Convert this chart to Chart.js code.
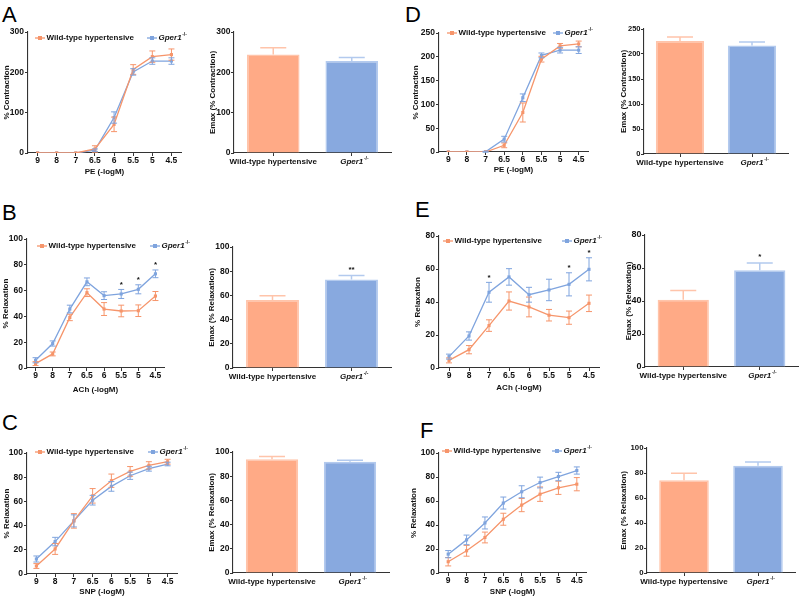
<!DOCTYPE html>
<html><head><meta charset="utf-8">
<script src="https://cdn.jsdelivr.net/npm/chart.js@4.4.0/dist/chart.umd.min.js"></script>
<style>
html,body{margin:0;padding:0;background:#fff}
body{width:800px;height:598px;position:relative;overflow:hidden;font-family:"Liberation Sans",Arial,sans-serif}
canvas{position:absolute}
.letter{position:absolute;font-size:22px;line-height:1;color:#000;font-family:"Liberation Sans",Arial,sans-serif}
</style></head><body>
<div class="letter" style="left:2px;top:4px">A</div>
<div class="letter" style="left:2px;top:202px">B</div>
<div class="letter" style="left:2px;top:412px">C</div>
<div class="letter" style="left:405px;top:4px">D</div>
<div class="letter" style="left:415px;top:199px">E</div>
<div class="letter" style="left:420px;top:420px">F</div>
<canvas id="lA"></canvas><canvas id="lB"></canvas><canvas id="lC"></canvas>
<canvas id="lD"></canvas><canvas id="lE"></canvas><canvas id="lF"></canvas>
<canvas id="bA"></canvas><canvas id="bB"></canvas><canvas id="bC"></canvas>
<canvas id="bD"></canvas><canvas id="bE"></canvas><canvas id="bF"></canvas>
<script>
// ---------- data ----------
const concentrations = ['9','8','7','6.5','6','5.5','5','4.5'];
const seriesNames = ['Wild-type hypertensive','Gper1-/-'];
const groups = ['Wild-type hypertensive','Gper1-/-'];

// A: PE contraction
const wtA = [0,0,0,10,71,207,239,244];
const wtErrA = [0,0,0,8,18,12,14,14];
const koA = [0,0,0,7,88,201,228,228];
const koErrA = [0,0,0,3,14,8,8,8];
const emaxA = [244,228];
const emaxErrA = [17,9];

// B: ACh relaxation
const wtB = [3.4,10.9,39.2,58.4,45.7,44.2,44.4,55.8];
const wtErrB = [1.5,1.5,2.5,3,5,4.5,4.5,3.5];
const koB = [6,19,45.7,66.8,56.1,57.4,61,73];
const koErrB = [2,2,3,3,3,3.5,3.5,3];
const sigB = ['','','','','','*','*','*'];
const emaxB = [56.2,73.2];
const emaxErrB = [3.5,3.2];
const emaxSigB = ['','**'];

// C: SNP relaxation
const wtC = [6.6,20.7,43.9,64.6,77.1,84.8,89.8,92.8];
const wtErrC = [2,4.5,6,6,5.5,4,3,2];
const koC = [12.4,26.8,43.9,61,72.4,81.2,87,90.9];
const koErrC = [2.5,3.5,5,4,4,3,2,1.5];
const emaxC = [94,92];
const emaxErrC = [2.2,1.2];

// D: PE contraction
const wtD = [0,0,0,14,83,195,223,227];
const wtErrD = [0,0,0,5,20,6,5,6];
const koD = [0,0,0.5,27,114,203,214,214];
const koErrD = [0,0,1,6,8,5,6,7];
const emaxD = [226,217];
const emaxErrD = [8,7];

// E: ACh relaxation
const wtE = [4.6,11.1,25.7,40.6,37,32,30.5,39.2];
const wtErrE = [1.5,2.5,3.5,5.5,6,3.5,4,5];
const koE = [6.9,19.4,45.9,55.2,44.4,47.3,50.7,59.8];
const koErrE = [1.5,2.5,6,5,4.5,6.5,7,7];
const sigE = ['','','*','','','','*','*'];
const emaxE = [40.7,58.7];
const emaxErrE = [5.7,4.4];
const emaxSigE = ['','*'];

// F: SNP relaxation
const wtF = [9.4,18.5,29.6,44.8,56.6,65.7,71,74];
const wtErrF = [3.5,4.5,4.5,5,5.5,6,5.5,5.5];
const koF = [15.7,27.6,41.7,58.3,67.7,75.4,80.4,85.4];
const koErrF = [3,4,5,5,5,4.5,3.5,3];
const emaxF = [74.3,85.9];
const emaxErrF = [5.5,3];

// ---------- styling ----------
const FAM = '"Liberation Sans", Arial, Helvetica, sans-serif';
const ORANGE = '#F6956B', BLUE = '#7FA4DE';
const ORANGE_BAR = '#FFAA86', BLUE_BAR = '#88A9DF';
const ORANGE_EDGE = '#FFC4AA', BLUE_EDGE = '#B3CAEE';
const AX = '#333';
const TXT = '#111';
const fs = (size, weight='bold', style='normal') => `${style} ${weight} ${size}px ${FAM}`;

function drawLabel(ctx, text, x, y, size, align) {
  const m = text.match(/^(.*?)(-\/-)$/);
  ctx.textBaseline = 'middle';
  if (!m) {
    ctx.font = fs(size); ctx.textAlign = align || 'left';
    ctx.fillText(text, x, y); return;
  }
  ctx.font = fs(size,'bold','italic');
  const w1 = ctx.measureText(m[1]).width;
  ctx.font = fs(size*0.62);
  const w2 = ctx.measureText(m[2]).width;
  const x0 = align === 'center' ? x - (w1 + w2) / 2 : x;
  ctx.textAlign = 'left';
  ctx.font = fs(size,'bold','italic'); ctx.fillText(m[1], x0, y);
  ctx.font = fs(size*0.62); ctx.fillText(m[2], x0 + w1 + 0.6, y - size*0.38);
}

const innerLegend = {
  id: 'innerLegend',
  afterDraw(chart, args, opts) {
    if (!opts || !opts.items) return;
    const {ctx, chartArea} = chart;
    ctx.save();
    chart.data.datasets.forEach((ds, i) => {
      const x = chartArea.left + opts.items[i];
      const y = chartArea.top + opts.dy;
      ctx.strokeStyle = ds.borderColor; ctx.lineWidth = 1.3;
      ctx.beginPath(); ctx.moveTo(x, y); ctx.lineTo(x + 10, y); ctx.stroke();
      ctx.fillStyle = ds.borderColor; ctx.fillRect(x + 3, y - 2, 4, 4);
      ctx.fillStyle = TXT;
      drawLabel(ctx, ds.label, x + 11.5, y, opts.size, 'left');
    });
    ctx.restore();
  }
};

const errorBars = {
  id: 'errorBars',
  afterDatasetsDraw(chart, args, opts) {
    const {ctx} = chart;
    const ys = chart.scales.y;
    ctx.save();
    chart.data.datasets.forEach((ds, i) => {
      if (!ds.errors) return;
      const meta = chart.getDatasetMeta(i);
      meta.data.forEach((el, j) => {
        const v = ds.data[j], e = ds.errors[j];
        const col = Array.isArray(ds.errColor) ? ds.errColor[j] : ds.errColor;
        const x = el.x;
        const yTop = ys.getPixelForValue(v + e);
        if (e > 0) {
          const yBot = opts.upOnly ? ys.getPixelForValue(v) : ys.getPixelForValue(v - e);
          ctx.strokeStyle = col; ctx.lineWidth = opts.width || 1;
          ctx.beginPath();
          ctx.moveTo(x, yBot); ctx.lineTo(x, yTop);
          ctx.moveTo(x - opts.cap, yTop); ctx.lineTo(x + opts.cap, yTop);
          if (!opts.upOnly) { ctx.moveTo(x - opts.cap, yBot); ctx.lineTo(x + opts.cap, yBot); }
          ctx.stroke();
        }
        if (ds.marks && ds.marks[j]) {
          ctx.fillStyle = TXT; ctx.font = fs(8);
          ctx.textAlign = 'center'; ctx.textBaseline = 'bottom';
          ctx.fillText(ds.marks[j], x, yTop - (opts.markGap || 1));
        }
      });
    });
    ctx.restore();
  }
};

// superscript on bar-category label
const catSuper = {
  id: 'catSuper',
  afterDraw(chart, args, opts) {
    const xs = chart.scales.x;
    const {ctx} = chart;
    ctx.save();
    chart.data.labels.forEach((lab, i) => {
      const m = lab.match(/^(.*?)(-\/-)$/);
      if (!m) return;
      const size = opts.size;
      ctx.font = fs(size,'bold','italic');
      const w1 = ctx.measureText(m[1]).width;
      const x = xs.getPixelForTick(i);
      const yMid = xs.top + opts.tl + opts.pad + size*1.2/2;
      ctx.font = fs(size*0.62); ctx.fillStyle = TXT;
      ctx.textAlign = 'left'; ctx.textBaseline = 'middle';
      ctx.fillText(m[2], x + w1/2 + 0.6, yMid - size*0.38);
    });
    ctx.restore();
  }
};

function placeCanvas(id, box) {
  const cv = document.getElementById(id);
  cv.width = box.w; cv.height = box.h;
  cv.style.left = box.x + 'px'; cv.style.top = box.y + 'px';
  cv.style.width = box.w + 'px'; cv.style.height = box.h + 'px';
  return cv;
}

function axisCommon() {
  return {
    grid: {display: true, drawOnChartArea: false, offset: false, tickLength: 3, color: AX, lineWidth: 1},
    border: {display: true, color: AX, width: 1.1}
  };
}

function lineChart(id, box, area, s) {
  const cv = placeCanvas(id, box);
  const lh = 8 * 1.2;
  new Chart(cv, {
    type: 'line',
    data: {
      labels: concentrations,
      datasets: [
        {label: seriesNames[0], data: s.wt, errors: s.wtErr, errColor: ORANGE, borderColor: ORANGE, backgroundColor: ORANGE,
         borderWidth: 1.3, pointStyle: 'rect', pointRadius: 2.2, pointBorderWidth: 0, tension: 0},
        {label: seriesNames[1], data: s.ko, errors: s.koErr, marks: s.sig, errColor: BLUE, borderColor: BLUE, backgroundColor: BLUE,
         borderWidth: 1.3, pointStyle: 'rect', pointRadius: 2.2, pointBorderWidth: 0, tension: 0}
      ]
    },
    options: {
      responsive: false, animation: false, devicePixelRatio: 1,
      layout: {padding: {left: 0, top: area.t - box.y, right: box.x + box.w - area.r, bottom: 0}},
      plugins: {
        legend: {display: false}, tooltip: {enabled: false},
        innerLegend: {items: s.legendX, dy: s.legendDy, size: 8},
        errorBars: {cap: 3, width: 1, markGap: 1}
      },
      scales: {
        x: Object.assign(axisCommon(), {
          offset: true,
          ticks: {font: {family: FAM, weight: 'bold', size: 8.5}, color: TXT, padding: 0, maxRotation: 0, minRotation: 0, autoSkip: false},
          title: {display: true, text: s.xTitle, color: TXT, font: {family: FAM, weight: 'bold', size: 8},
                  padding: {top: 0, bottom: box.y + box.h - s.xTitleY - lh/2}},
          afterFit: sc => { sc.height = box.y + box.h - area.b; }
        }),
        y: Object.assign(axisCommon(), {
          min: 0, max: s.max,
          ticks: {stepSize: s.step, font: {family: FAM, weight: 'bold', size: 8.5}, color: TXT, padding: 1},
          title: {display: true, text: s.yTitle, color: TXT, font: {family: FAM, weight: 'bold', size: 8},
                  padding: {top: s.yTitleX - box.x - lh/2, bottom: 0}},
          afterFit: sc => { sc.width = area.l - box.x; }
        })
      }
    },
    plugins: [innerLegend, errorBars]
  });
}

function barChart(id, box, area, s) {
  const cv = placeCanvas(id, box);
  const lh = 8 * 1.2;
  const tsz = s.tickSize || 8.5;
  new Chart(cv, {
    type: 'bar',
    data: {
      labels: groups,
      datasets: [{
        data: s.values, errors: s.errs, marks: s.marks,
        backgroundColor: [ORANGE_BAR, BLUE_BAR], borderColor: [ORANGE_EDGE, BLUE_EDGE], errColor: [ORANGE_EDGE, BLUE_EDGE],
        borderWidth: 1.5, barPercentage: 0.67, categoryPercentage: 1
      }]
    },
    options: {
      responsive: false, animation: false, devicePixelRatio: 1,
      layout: {padding: {left: 0, top: area.t - box.y, right: box.x + box.w - area.r, bottom: 0}},
      plugins: {
        legend: {display: false}, tooltip: {enabled: false},
        errorBars: {cap: 13, width: 1.5, upOnly: true, markGap: 2},
        catSuper: {size: 8, tl: 3, pad: 0.5}
      },
      scales: {
        x: Object.assign(axisCommon(), {
          ticks: {
            font: c => ({family: FAM, weight: 'bold', size: 8, style: /-\/-$/.test(groups[c.index]) ? 'italic' : 'normal'}),
            color: TXT, padding: 0.5, maxRotation: 0, minRotation: 0, autoSkip: false,
            callback: (v, i) => groups[i].replace(/-\/-$/, '')
          },
          afterFit: sc => { sc.height = box.y + box.h - area.b; }
        }),
        y: Object.assign(axisCommon(), {
          min: 0, max: s.max,
          ticks: {stepSize: s.step, font: {family: FAM, weight: 'bold', size: tsz}, color: TXT, padding: 0.5},
          title: {display: true, text: s.yTitle, color: TXT, font: {family: FAM, weight: 'bold', size: 8},
                  padding: {top: s.yTitleX - box.x - lh/2, bottom: 0}},
          afterFit: sc => { sc.width = area.l - box.x; }
        })
      }
    },
    plugins: [errorBars, catSuper]
  });
}

// ---------- panels ----------
lineChart('lA', {x:0,y:0,w:205,h:190}, {l:28,t:32,r:181,b:153},
  {wt: wtA, wtErr: wtErrA, ko: koA, koErr: koErrA, max: 300, step: 100, xTitle: 'PE (-logM)', yTitle: '% Contraction',
   xTitleY: 172, yTitleX: 6.5, legendX: [7, 119], legendDy: 6});
lineChart('lB', {x:0,y:195,w:205,h:200}, {l:27,t:239,r:164,b:368},
  {wt: wtB, wtErr: wtErrB, ko: koB, koErr: koErrB, sig: sigB, max: 100, step: 20, xTitle: 'ACh (-logM)', yTitle: '% Relaxation',
   xTitleY: 390, yTitleX: 5.5, legendX: [10, 123], legendDy: 7});
lineChart('lC', {x:0,y:395,w:205,h:203}, {l:27,t:453,r:177,b:574},
  {wt: wtC, wtErr: wtErrC, ko: koC, koErr: koErrC, max: 100, step: 20, xTitle: 'SNP (-logM)', yTitle: '% Relaxation',
   xTitleY: 592, yTitleX: 6.7, legendX: [8, 121], legendDy: -1});
lineChart('lD', {x:400,y:0,w:205,h:190}, {l:439,t:33,r:588,b:152},
  {wt: wtD, wtErr: wtErrD, ko: koD, koErr: koErrD, max: 250, step: 50, xTitle: 'PE (-logM)', yTitle: '% Contraction',
   xTitleY: 170, yTitleX: 415.5, legendX: [8, 114], legendDy: 0});
lineChart('lE', {x:400,y:195,w:210,h:200}, {l:439,t:236,r:599,b:368},
  {wt: wtE, wtErr: wtErrE, ko: koE, koErr: koErrE, sig: sigE, max: 80, step: 20, xTitle: 'ACh (-logM)', yTitle: '% Relaxation',
   xTitleY: 388, yTitleX: 418, legendX: [4, 123], legendDy: 5});
lineChart('lF', {x:400,y:395,w:205,h:203}, {l:439,t:453,r:586,b:573},
  {wt: wtF, wtErr: wtErrF, ko: koF, koErr: koErrF, max: 100, step: 20, xTitle: 'SNP (-logM)', yTitle: '% Relaxation',
   xTitleY: 592, yTitleX: 414, legendX: [3, 113], legendDy: -2});

barChart('bA', {x:200,y:0,w:200,h:190}, {l:234,t:32,r:391,b:153},
  {values: emaxA, errs: emaxErrA, max: 300, step: 100, yTitle: 'Emax (% Contraction)', yTitleX: 213});
barChart('bB', {x:200,y:195,w:200,h:200}, {l:233,t:247,r:391,b:368},
  {values: emaxB, errs: emaxErrB, marks: emaxSigB, max: 100, step: 20, yTitle: 'Emax (% Relaxation)', yTitleX: 211.7});
barChart('bC', {x:200,y:395,w:200,h:203}, {l:233,t:452,r:389,b:573},
  {values: emaxC, errs: emaxErrC, max: 100, step: 20, yTitle: 'Emax (% Relaxation)', yTitleX: 211.7});
barChart('bD', {x:600,y:0,w:200,h:190}, {l:644,t:29,r:788,b:154},
  {values: emaxD, errs: emaxErrD, max: 250, step: 50, yTitle: 'Emax (% Contraction)', yTitleX: 624, tickSize: 7.5});
barChart('bE', {x:600,y:195,w:200,h:200}, {l:645,t:235,r:798,b:367},
  {values: emaxE, errs: emaxErrE, marks: emaxSigE, max: 80, step: 20, yTitle: 'Emax (% Relaxation)', yTitleX: 629, tickSize: 9});
barChart('bF', {x:600,y:395,w:200,h:203}, {l:647,t:448,r:795,b:573},
  {values: emaxF, errs: emaxErrF, max: 100, step: 20, yTitle: 'Emax (% Relaxation)', yTitleX: 624, tickSize: 7.8});
</script>
</body></html>
